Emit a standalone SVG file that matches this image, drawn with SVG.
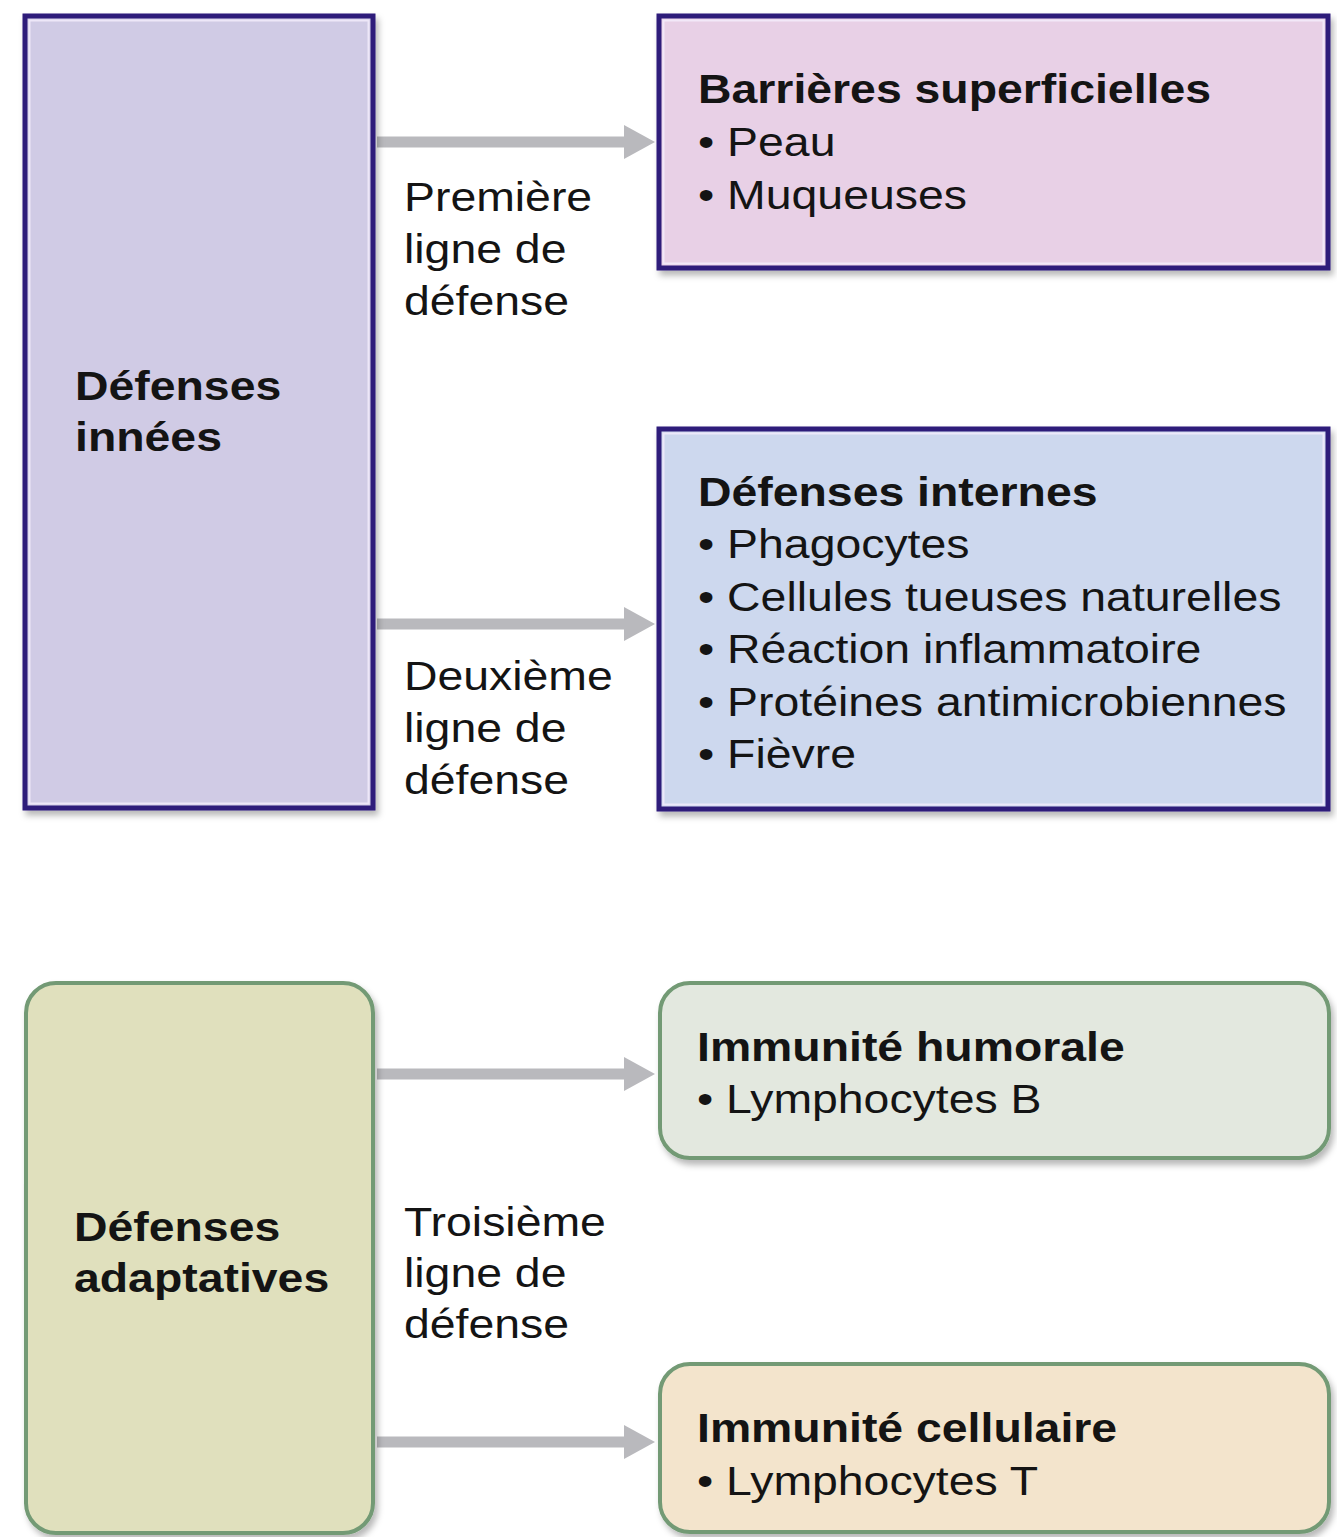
<svg xmlns="http://www.w3.org/2000/svg" width="1337" height="1537" viewBox="0 0 1337 1537">
<style>
  text { font-family: "Liberation Sans", Arial, sans-serif; font-size: 40px; fill: #141414; }
  .b { font-weight: bold; }
  .inn { stroke: #2e1c7a; stroke-width: 5; }
  .adp { stroke: #739a74; stroke-width: 4; }
  .hl { fill: none; stroke: #f4eefc; stroke-width: 2; opacity: 0.8; }
  .arr { stroke: #b9b9bd; stroke-width: 11; fill: none; marker-end: url(#ah); }
</style>
<defs>
  <filter id="sh" x="-10%" y="-10%" width="120%" height="120%">
    <feDropShadow dx="3" dy="5" stdDeviation="3" flood-color="#000" flood-opacity="0.28"/>
  </filter>
  <marker id="ah" markerUnits="userSpaceOnUse" markerWidth="32" markerHeight="36" viewBox="0 0 32 36" refX="2" refY="18" orient="auto">
    <path d="M0,1 L31,18 L0,35 z" fill="#b9b9bd"/>
  </marker>
</defs>
<rect width="1337" height="1537" fill="#ffffff"/>

<g id="connectors">
  <line class="arr" x1="377" y1="142" x2="626" y2="142"/>
  <line class="arr" x1="377" y1="624" x2="626" y2="624"/>
  <line class="arr" x1="377" y1="1074" x2="626" y2="1074"/>
  <line class="arr" x1="377" y1="1442" x2="626" y2="1442"/>
  <text transform="translate(404,0) scale(1.16,1)"><tspan x="0" y="211">Première</tspan><tspan x="0" y="263">ligne de</tspan><tspan x="0" y="315">défense</tspan></text>
  <text transform="translate(404,0) scale(1.16,1)"><tspan x="0" y="690">Deuxième</tspan><tspan x="0" y="742">ligne de</tspan><tspan x="0" y="794">défense</tspan></text>
  <text transform="translate(404,0) scale(1.16,1)"><tspan x="0" y="1236">Troisième</tspan><tspan x="0" y="1287">ligne de</tspan><tspan x="0" y="1338">défense</tspan></text>
</g>

<g id="defenses-innees">
  <rect x="25" y="16" width="348" height="792" fill="#d0cbe5" class="inn" filter="url(#sh)"/>
  <rect x="29.5" y="20.5" width="339" height="783" class="hl"/>
  <text class="b" transform="translate(75,0) scale(1.16,1)"><tspan x="0" y="400">Défenses</tspan><tspan x="0" y="451">innées</tspan></text>
</g>

<g id="barrieres">
  <rect x="659" y="16" width="669" height="252" fill="#e8d0e6" class="inn" filter="url(#sh)"/>
  <rect x="663.5" y="20.5" width="660" height="243" class="hl"/>
  <text transform="translate(698,0) scale(1.16,1)"><tspan x="0" y="103" class="b">Barrières superficielles</tspan><tspan x="0" y="156">• Peau</tspan><tspan x="0" y="209">• Muqueuses</tspan></text>
</g>

<g id="defenses-internes">
  <rect x="659" y="429" width="669" height="380" fill="#cdd8ee" class="inn" filter="url(#sh)"/>
  <rect x="663.5" y="433.5" width="660" height="371" class="hl"/>
  <text transform="translate(698,0) scale(1.16,1)"><tspan x="0" y="506" class="b">Défenses internes</tspan><tspan x="0" y="558">• Phagocytes</tspan><tspan x="0" y="611">• Cellules tueuses naturelles</tspan><tspan x="0" y="663">• Réaction inflammatoire</tspan><tspan x="0" y="716">• Protéines antimicrobiennes</tspan><tspan x="0" y="768">• Fièvre</tspan></text>
</g>

<g id="defenses-adaptatives">
  <rect x="26" y="983" width="347" height="550" rx="30" fill="#e0e0bd" class="adp" filter="url(#sh)"/>
  <text class="b" transform="translate(74,0) scale(1.16,1)"><tspan x="0" y="1241">Défenses</tspan><tspan x="0" y="1292">adaptatives</tspan></text>
</g>

<g id="immunite-humorale">
  <rect x="660" y="983" width="669" height="175" rx="30" fill="#e3e8df" class="adp" filter="url(#sh)"/>
  <text transform="translate(697,0) scale(1.16,1)"><tspan x="0" y="1061" class="b">Immunité humorale</tspan><tspan x="0" y="1113">• Lymphocytes B</tspan></text>
</g>

<g id="immunite-cellulaire">
  <rect x="660" y="1364" width="669" height="168" rx="30" fill="#f3e4cc" class="adp" filter="url(#sh)"/>
  <text transform="translate(697,0) scale(1.16,1)"><tspan x="0" y="1442" class="b">Immunité cellulaire</tspan><tspan x="0" y="1495">• Lymphocytes T</tspan></text>
</g>
</svg>
